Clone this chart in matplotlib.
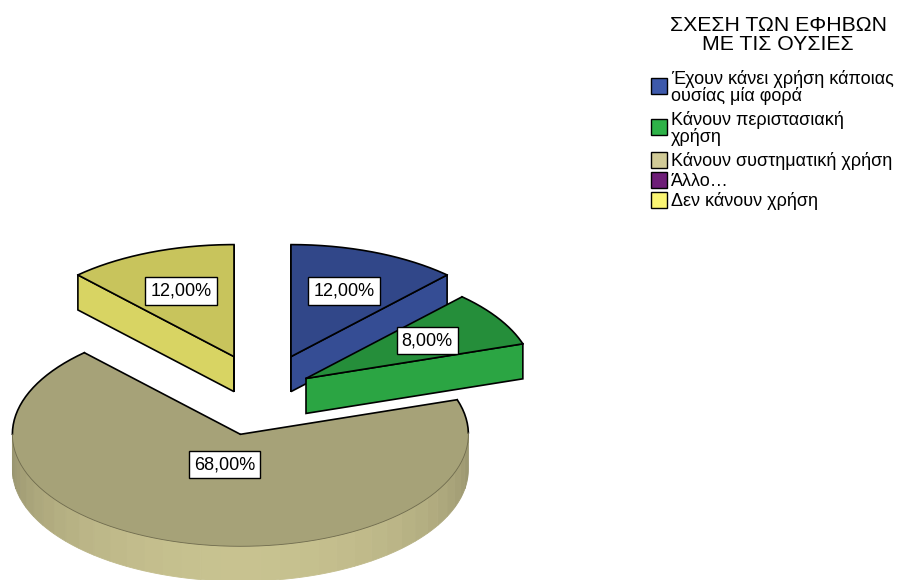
import numpy as np
import matplotlib.pyplot as plt
from matplotlib.patches import Polygon, Rectangle

plt.rcParams['font.family'] = ['Liberation Sans', 'DejaVu Sans']

title = 'ΣΧΕΣΗ ΤΩΝ ΕΦΗΒΩΝ\nΜΕ ΤΙΣ ΟΥΣΙΕΣ'
categories = [
    'Έχουν κάνει χρήση κάποιας\nουσίας μία φορά',
    'Κάνουν περιστασιακή\nχρήση',
    'Κάνουν συστηματική χρήση',
    'Άλλο…',
    'Δεν κάνουν χρήση',
]
percents = [12.0, 8.0, 68.0, 0.0, 12.0]
colors = ['#3d59ab', '#2eb248', '#d0ca96', '#6e1e78', '#faf573']

# how far each slice is pulled out, and where its label sits (fractions of radius)
explode = [0.34, 0.226, 0.39, 0.0, 0.34]
label_r = [0.63, 0.63, 0.28, 0.63, 0.63]

# pie geometry, in pixels
CX, CY = 262.5, 392
RX, RY = 228, 112
DEPTH = 35


def shade(hexcol, f):
    rgb = np.array([int(hexcol[i:i + 2], 16) for i in (1, 3, 5)]) / 255.0
    return tuple(np.clip(rgb * f, 0, 1))


def proj(theta, r, ox, oy, dz=0.0):
    # theta measured clockwise from 12 o'clock
    return ox + r * RX * np.sin(theta), oy - r * RY * np.cos(theta) + dz


def side_factor(phi):
    return 0.72 + 0.24 * max(0.0, -np.cos(phi))


fig = plt.figure(figsize=(9.09, 5.80), dpi=100)
ax = fig.add_axes([0, 0, 1, 1])
ax.set_xlim(0, 909)
ax.set_ylim(580, 0)
ax.axis('off')

total = sum(percents)
bounds = np.concatenate([[0], np.cumsum(percents)]) / total * 2 * np.pi

slices = []
for i, p in enumerate(percents):
    if p <= 0:
        continue
    a0, a1 = bounds[i], bounds[i + 1]
    mid = (a0 + a1) / 2
    ox, oy = proj(mid, explode[i], CX, CY)
    slices.append((oy, i, a0, a1, mid, ox))

# back slices first
slices.sort()
label_pos = []
for oy, i, a0, a1, mid, ox in slices:
    col = colors[i]
    apex = (ox, oy)
    apex_lo = (ox, oy + DEPTH)

    # radial walls
    for a, phi in ((a0, a0 - np.pi / 2), (a1, a1 + np.pi / 2)):
        if np.cos(phi) < 1e-9:
            p_top = proj(a, 1, ox, oy)
            p_lo = proj(a, 1, ox, oy, DEPTH)
            ax.add_patch(Polygon([apex, p_top, p_lo, apex_lo], closed=True,
                                 facecolor=shade(col, side_factor(phi) - 0.02),
                                 edgecolor='black', lw=1.2, zorder=2))

    # curved outer wall, faceted strips on the front half
    lo, hi = max(a0, np.pi / 2), min(a1, 3 * np.pi / 2)
    if hi > lo:
        edges = np.linspace(lo, hi, int(np.ceil((hi - lo) / np.radians(5))) + 1)
        for t0, t1 in zip(edges[:-1], edges[1:]):
            ts = np.linspace(t0, t1, 6)
            up = [proj(t, 1, ox, oy) for t in ts]
            dn = [proj(t, 1, ox, oy, DEPTH) for t in ts[::-1]]
            fc = shade(col, side_factor((t0 + t1) / 2))
            ax.add_patch(Polygon(up + dn, closed=True, facecolor=fc,
                                 edgecolor=fc, lw=0.6, zorder=2))

    # top face
    ts = np.linspace(a0, a1, 200)
    arc = [proj(t, 1, ox, oy) for t in ts]
    ax.add_patch(Polygon([apex] + arc, closed=True, facecolor=shade(col, 0.8),
                         edgecolor='none', zorder=3))
    for a in (a0, a1):
        px, py = proj(a, 1, ox, oy)
        ax.plot([ox, px], [oy, py], color='black', lw=1.2, zorder=4,
                solid_capstyle='round')
    # rim: black on the far half, a faint line where it meets the wall
    xs = np.array([pt[0] for pt in arc])
    ys = np.array([pt[1] for pt in arc])
    back = np.cos(ts) >= 0
    ax.plot(np.where(back, xs, np.nan), np.where(back, ys, np.nan),
            color='black', lw=1.2, zorder=4)
    front = np.cos(ts) <= 0.02
    ax.plot(np.where(front, xs, np.nan), np.where(front, ys, np.nan),
            color='#6e6a4c', lw=0.6, zorder=4)

    label_pos.append((i, proj(mid, label_r[i], ox, oy)))

for i, (lx, ly) in label_pos:
    ax.text(lx, ly, f'{percents[i]:.2f}%'.replace('.', ','), fontsize=13,
            ha='center', va='center', zorder=6,
            bbox=dict(boxstyle='square,pad=0.28', facecolor='white',
                      edgecolor='black', lw=1.0))

# legend
ax.text(778, 35, title, fontsize=15.3, ha='center', va='center', linespacing=1.05)
item_y = [86, 127, 160, 180, 200]
for lab, col, y in zip(categories, colors, item_y):
    ax.add_patch(Rectangle((651, y - 8), 16, 16, facecolor=col,
                           edgecolor='black', lw=1.0))
    ax.text(671, y + 1.5, lab, fontsize=13, ha='left', va='center', linespacing=0.93)

fig.savefig('out.png', dpi=100)
